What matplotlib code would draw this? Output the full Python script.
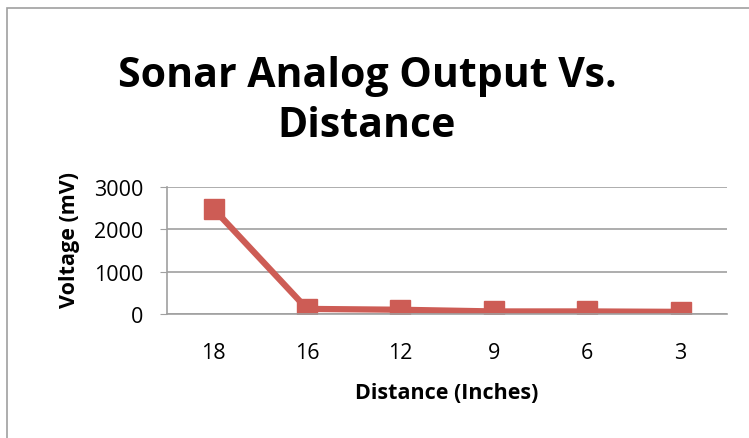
import matplotlib
matplotlib.use('Agg')
import matplotlib.pyplot as plt
from matplotlib.patches import Rectangle

# Data
distances = ['18', '16', '12', '9', '6', '3']
voltage_mv = [2480, 120, 100, 60, 60, 50]

plt.rcParams['font.family'] = ['Open Sans', 'DejaVu Sans']

fig = plt.figure(figsize=(7.49, 4.39), dpi=100)

# outer chart frame like the Excel chart area
fig.patches.append(Rectangle((7 / 749, -0.1), 1.1, 1 - 9 / 439 + 0.1,
                             transform=fig.transFigure, fill=False,
                             edgecolor='#a0a0a0', linewidth=1.2))

ax = fig.add_axes([0.223, 0.2825, 0.748, 0.2893])

x = range(len(distances))
ax.plot(x, voltage_mv, color='#cd5c55', linewidth=4.5, marker='s',
        markersize=15, markerfacecolor='#cd5c55', markeredgecolor='#cd5c55')

ax.set_xlim(-0.5, len(distances) - 0.5)
ax.set_ylim(0, 3000)
ax.set_yticks([0, 1000, 2000, 3000])
ax.set_xticks(list(x))
ax.set_xticklabels(distances)

ax.grid(axis='y', color='#a0a0a0', linewidth=1.2)
ax.set_axisbelow(True)
for side in ['top', 'right']:
    ax.spines[side].set_visible(False)
ax.spines['left'].set_color('#a0a0a0')
ax.spines['bottom'].set_color('#a0a0a0')
ax.spines['left'].set_linewidth(1.2)
ax.spines['bottom'].set_linewidth(1.2)
ax.tick_params(axis='y', length=5, color='#a0a0a0', labelsize=15.5, pad=12)
ax.tick_params(axis='x', length=0, labelsize=15.5, pad=20)

ax.set_xlabel('Distance (Inches)', fontsize=15.5, fontweight='bold', labelpad=14)
ax.set_ylabel('Voltage (mV)', fontsize=15.5, fontweight='bold')
ax.yaxis.set_label_coords(-0.156, 0.59)

fig.text(0.49, 0.768, 'Sonar Analog Output Vs.\nDistance', ha='center', va='center',
         fontsize=29.5, fontweight='bold', linespacing=1.3)

fig.savefig('out.png', dpi=100, facecolor='white')
